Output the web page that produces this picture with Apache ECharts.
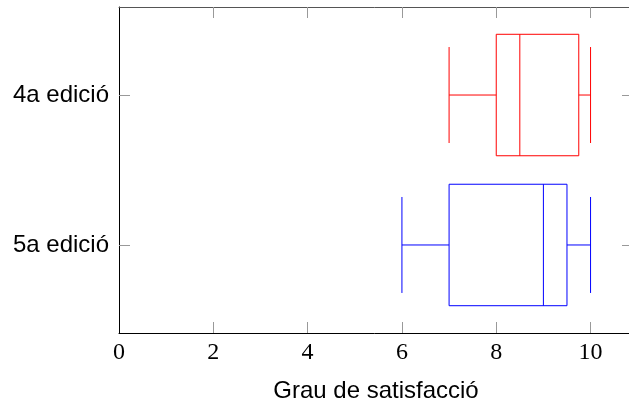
<!DOCTYPE html>
<html>
<head>
<meta charset="utf-8">
<script src="https://cdn.jsdelivr.net/npm/echarts@6/dist/echarts.min.js"></script>
<style>html,body{margin:0;padding:0;background:#fff}#c{width:629px;height:407px}</style>
</head>
<body>
<div id="c"></div>
<script>
// Categories (y = 1, y = 2)
const categories = ['5a edició', '4a edició'];
// Boxplot statistics per category
const minVals = [6, 7];
const q1Vals = [7, 8];
const medVals = [9, 8.5];
const q3Vals = [9.5, 9.75];
const maxVals = [10, 10];
// tick values
const xTicks = [0, 2, 4, 6, 8, 10];
const yTicks = [1, 2];

const seriesColors = ['#0000ff', '#ff0000'];
const data = categories.map((c, i) => [i + 1, minVals[i], q1Vals[i], medVals[i], q3Vals[i], maxVals[i]]);
// tick marks at 0 coincide with the left axis line; skip drawing them
const xTickMarks = xTicks.filter(v => v !== 0);

const chart = echarts.init(document.getElementById('c'), null, {renderer: 'canvas'});
const BOX_HALF = 0.405, CAP_HALF = 0.32;

function renderItem(params, api) {
  const y = api.value(0);
  const mn = api.value(1), q1 = api.value(2), md = api.value(3), q3 = api.value(4), mx = api.value(5);
  const col = seriesColors[params.dataIndex];
  const pMin = api.coord([mn, y]), pQ1 = api.coord([q1, y]), pMd = api.coord([md, y]),
        pQ3 = api.coord([q3, y]), pMax = api.coord([mx, y]);
  const hb = api.size([0, BOX_HALF])[1];
  const hc = api.size([0, CAP_HALF])[1];
  const cy = pMd[1];
  const st = {stroke: col, lineWidth: 1, fill: null};
  return {
    type: 'group',
    children: [
      {type: 'rect', shape: {x: pQ1[0], y: cy - hb, width: pQ3[0] - pQ1[0], height: 2 * hb}, style: {stroke: col, lineWidth: 1, fill: 'none'}},
      {type: 'line', shape: {x1: pMd[0], y1: cy - hb, x2: pMd[0], y2: cy + hb}, style: st},
      {type: 'line', shape: {x1: pMin[0], y1: cy, x2: pQ1[0], y2: cy}, style: st},
      {type: 'line', shape: {x1: pQ3[0], y1: cy, x2: pMax[0], y2: cy}, style: st},
      {type: 'line', shape: {x1: pMin[0], y1: cy - hc, x2: pMin[0], y2: cy + hc}, style: st},
      {type: 'line', shape: {x1: pMax[0], y1: cy - hc, x2: pMax[0], y2: cy + hc}, style: st}
    ]
  };
}

const tickStyle = {color: '#999', width: 1};
const XMAX = 10.9, YMIN = 0.413, YMAX = 2.587;
chart.setOption({
  animation: false,
  grid: {left: 119, width: 514, top: 7, height: 326, containLabel: false, outerBoundsMode: 'none'},
  xAxis: [{
    type: 'value', position: 'bottom', min: 0, max: XMAX,
    axisLine: {onZero: false, lineStyle: {color: '#000', width: 1}},
    axisTick: {inside: true, length: 11, customValues: xTickMarks, lineStyle: tickStyle},
    axisLabel: {customValues: xTicks, fontFamily: 'Liberation Serif', fontSize: 24, color: '#000', margin: 8},
    splitLine: {show: false},
    name: 'Grau de satisfacció', nameLocation: 'middle', nameGap: 46,
    nameTextStyle: {fontFamily: 'Liberation Sans', fontSize: 24, color: '#000'}
  }, {
    type: 'value', position: 'top', min: 0, max: XMAX,
    axisLine: {onZero: false, lineStyle: {color: '#555', width: 1}},
    axisTick: {inside: true, length: 11, customValues: xTickMarks, lineStyle: tickStyle},
    axisLabel: {show: false},
    splitLine: {show: false}
  }],
  yAxis: [{
    type: 'value', position: 'left', min: YMIN, max: YMAX,
    axisLine: {show: true, onZero: false, lineStyle: {color: '#000', width: 1}},
    axisTick: {show: true, inside: true, length: 11, customValues: yTicks, lineStyle: tickStyle},
    axisLabel: {customValues: yTicks, formatter: v => categories[Math.round(v) - 1],
      fontFamily: 'Liberation Sans', fontSize: 24, color: '#000', margin: 10},
    splitLine: {show: false}
  }, {
    type: 'value', position: 'right', min: YMIN, max: YMAX,
    axisLine: {show: true, onZero: false, lineStyle: {color: '#555', width: 1}},
    axisTick: {show: true, inside: true, length: 11, customValues: yTicks, lineStyle: tickStyle},
    axisLabel: {show: false},
    splitLine: {show: false}
  }],
  series: [{
    type: 'custom', xAxisIndex: 0, yAxisIndex: 0,
    renderItem: renderItem,
    encode: {x: [1, 2, 3, 4, 5], y: 0},
    data: data
  }]
});
</script>
</body>
</html>
